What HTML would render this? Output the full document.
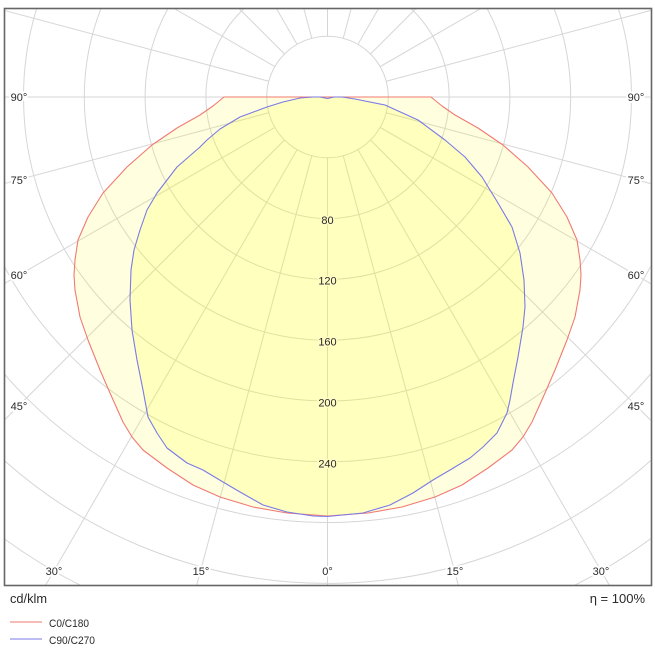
<!DOCTYPE html>
<html>
<head>
<meta charset="utf-8">
<style>
  html,body{margin:0;padding:0;background:#fff;width:655px;height:655px;overflow:hidden;}
  svg{display:block;overflow:hidden;}
  text{font-family:"Liberation Sans","DejaVu Sans",sans-serif;fill:#2a2a2a;}
</style>
</head>
<body>
<svg width="655" height="655" viewBox="0 0 655 655" xmlns="http://www.w3.org/2000/svg">
  <defs>
    <clipPath id="frame">
      <rect x="5" y="9" width="645.5" height="576"/>
    </clipPath>
  </defs>
  <rect x="0" y="0" width="655" height="655" fill="#fff"/>

  <g clip-path="url(#frame)">
    <!-- grid circles -->
    <g fill="none" stroke="#d6d6d6" stroke-width="1">
      <circle cx="327.5" cy="97" r="60.8"/>
      <circle cx="327.5" cy="97" r="121.6"/>
      <circle cx="327.5" cy="97" r="182.4"/>
      <circle cx="327.5" cy="97" r="243.2"/>
      <circle cx="327.5" cy="97" r="304"/>
      <circle cx="327.5" cy="97" r="364.8"/>
      <circle cx="327.5" cy="97" r="425.6"/>
      <circle cx="327.5" cy="97" r="486.4"/>
      <circle cx="327.5" cy="97" r="547.2"/>
    </g>
    <!-- radial lines every 15 deg (lengths limited to the frame) -->
    <g transform="translate(327.5,97)" stroke="#d6d6d6" stroke-width="1">
      <line x1="0" y1="60.8" x2="0" y2="490" transform="rotate(0)"/>
      <line x1="0" y1="60.8" x2="0" y2="507" transform="rotate(15)"/>
      <line x1="0" y1="60.8" x2="0" y2="566" transform="rotate(30)"/>
      <line x1="0" y1="60.8" x2="0" y2="459" transform="rotate(45)"/>
      <line x1="0" y1="60.8" x2="0" y2="375" transform="rotate(60)"/>
      <line x1="0" y1="60.8" x2="0" y2="336" transform="rotate(75)"/>
      <line x1="0" y1="60.8" x2="0" y2="325" transform="rotate(90)"/>
      <line x1="0" y1="60.8" x2="0" y2="336" transform="rotate(105)"/>
      <line x1="0" y1="60.8" x2="0" y2="179" transform="rotate(120)"/>
      <line x1="0" y1="60.8" x2="0" y2="127" transform="rotate(135)"/>
      <line x1="0" y1="60.8" x2="0" y2="104" transform="rotate(150)"/>
      <line x1="0" y1="60.8" x2="0" y2="93" transform="rotate(165)"/>
      <line x1="0" y1="60.8" x2="0" y2="90" transform="rotate(180)"/>
      <line x1="0" y1="60.8" x2="0" y2="93" transform="rotate(195)"/>
      <line x1="0" y1="60.8" x2="0" y2="104" transform="rotate(210)"/>
      <line x1="0" y1="60.8" x2="0" y2="127" transform="rotate(225)"/>
      <line x1="0" y1="60.8" x2="0" y2="179" transform="rotate(240)"/>
      <line x1="0" y1="60.8" x2="0" y2="336" transform="rotate(255)"/>
      <line x1="0" y1="60.8" x2="0" y2="325" transform="rotate(270)"/>
      <line x1="0" y1="60.8" x2="0" y2="336" transform="rotate(285)"/>
      <line x1="0" y1="60.8" x2="0" y2="375" transform="rotate(300)"/>
      <line x1="0" y1="60.8" x2="0" y2="459" transform="rotate(315)"/>
      <line x1="0" y1="60.8" x2="0" y2="566" transform="rotate(330)"/>
      <line x1="0" y1="60.8" x2="0" y2="507" transform="rotate(345)"/>
    </g>

    <!-- C0/C180 fill -->
    <path d="M224,97 L213,106 L200,115 L177,128 L152,145 L127,167 L103,193 L88,217 L78,240 L75,260 L74,275 L75,290 L80,317 L88,340 L100,370 L110,393 L123,422 L132,437 L143,450 L167,468 L193,485 L220,497 L253,507 L287,513 L327.5,516 L368,513 L402,507 L435,497 L462,485 L488,468 L512,450 L523,437 L532,422 L545,393 L555,370 L567,340 L575,317 L580,290 L581,275 L580,260 L577,240 L567,217 L552,193 L528,167 L503,145 L478,128 L455,115 L442,106 L431,97 Z"
      fill="rgba(255,255,0,0.12)" stroke="none"/>
    <!-- C90/C270 fill -->
    <path d="M327.5,98.5 L320,97 L313,97 L300,98 L283,102 L267,107 L240,117 L220,129 L207,140 L200,147 L177,167 L157,193 L147,210 L140,230 L134,250 L131,270 L130,300 L132,330 L137,360 L143,390 L148,417 L157,433 L167,448 L187,463 L203,470 L223,482 L240,492 L263,505 L287,512 L313,516 L327.5,516.5 L363,513 L390,505 L413,493 L433,480 L450,470 L470,458 L483,447 L497,433 L507,413 L510,400 L513,383 L518,357 L523,327 L525,307 L524,280 L520,253 L512,227 L498,203 L482,177 L465,157 L445,140 L418,120 L385,105 L355,99 L342,97 L334,97 Z"
      fill="rgba(255,255,0,0.15)" stroke="none"/>

    <!-- strokes -->
    <path d="M224,97 L213,106 L200,115 L177,128 L152,145 L127,167 L103,193 L88,217 L78,240 L75,260 L74,275 L75,290 L80,317 L88,340 L100,370 L110,393 L123,422 L132,437 L143,450 L167,468 L193,485 L220,497 L253,507 L287,513 L327.5,516 L368,513 L402,507 L435,497 L462,485 L488,468 L512,450 L523,437 L532,422 L545,393 L555,370 L567,340 L575,317 L580,290 L581,275 L580,260 L577,240 L567,217 L552,193 L528,167 L503,145 L478,128 L455,115 L442,106 L431,97 Z"
      fill="none" stroke="#f07a72" stroke-width="1.1" stroke-linejoin="round"/>
    <path d="M327.5,98.5 L320,97 L313,97 L300,98 L283,102 L267,107 L240,117 L220,129 L207,140 L200,147 L177,167 L157,193 L147,210 L140,230 L134,250 L131,270 L130,300 L132,330 L137,360 L143,390 L148,417 L157,433 L167,448 L187,463 L203,470 L223,482 L240,492 L263,505 L287,512 L313,516 L327.5,516.5 L363,513 L390,505 L413,493 L433,480 L450,470 L470,458 L483,447 L497,433 L507,413 L510,400 L513,383 L518,357 L523,327 L525,307 L524,280 L520,253 L512,227 L498,203 L482,177 L465,157 L445,140 L418,120 L385,105 L355,99 L342,97 L334,97 Z"
      fill="none" stroke="#7a7ae6" stroke-width="1.1" stroke-linejoin="round"/>
  </g>

  <!-- cd/klm value labels -->
  <g font-size="11" text-anchor="middle" stroke="#fffcc4" stroke-width="3" paint-order="stroke" stroke-linejoin="round">
    <text x="327.5" y="224">80</text>
    <text x="327.5" y="284.5">120</text>
    <text x="327.5" y="345.5">160</text>
    <text x="327.5" y="406.5">200</text>
    <text x="327.5" y="467.5">240</text>
  </g>

  <!-- angle labels -->
  <g font-size="11" text-anchor="middle" stroke="#fff" stroke-width="4" paint-order="stroke" stroke-linejoin="round">
    <text x="19" y="101">90°</text>
    <text x="19" y="184">75°</text>
    <text x="19" y="279">60°</text>
    <text x="19" y="410">45°</text>
    <text x="636" y="101">90°</text>
    <text x="636" y="184">75°</text>
    <text x="636" y="279">60°</text>
    <text x="636" y="410">45°</text>
    <text x="54" y="575">30°</text>
    <text x="201" y="575">15°</text>
    <text x="327.5" y="575">0°</text>
    <text x="455" y="575">15°</text>
    <text x="601" y="575">30°</text>
  </g>

  <!-- frame -->
  <rect x="4.5" y="8.5" width="647" height="577" fill="none" stroke="#666" stroke-width="1.6"/>

  <!-- bottom texts -->
  <text x="10" y="603" font-size="13" textLength="37" lengthAdjust="spacingAndGlyphs">cd/klm</text>
  <text x="645" y="603" font-size="13" text-anchor="end">η = 100%</text>

  <!-- legend -->
  <line x1="10" y1="622" x2="42" y2="622" stroke="#f07a72" stroke-width="1.1"/>
  <text x="49" y="627" font-size="11" textLength="40" lengthAdjust="spacingAndGlyphs">C0/C180</text>
  <line x1="10" y1="639" x2="42" y2="639" stroke="#7a7ae6" stroke-width="1.1"/>
  <text x="49" y="644" font-size="11" textLength="46" lengthAdjust="spacingAndGlyphs">C90/C270</text>
</svg>
</body>
</html>
